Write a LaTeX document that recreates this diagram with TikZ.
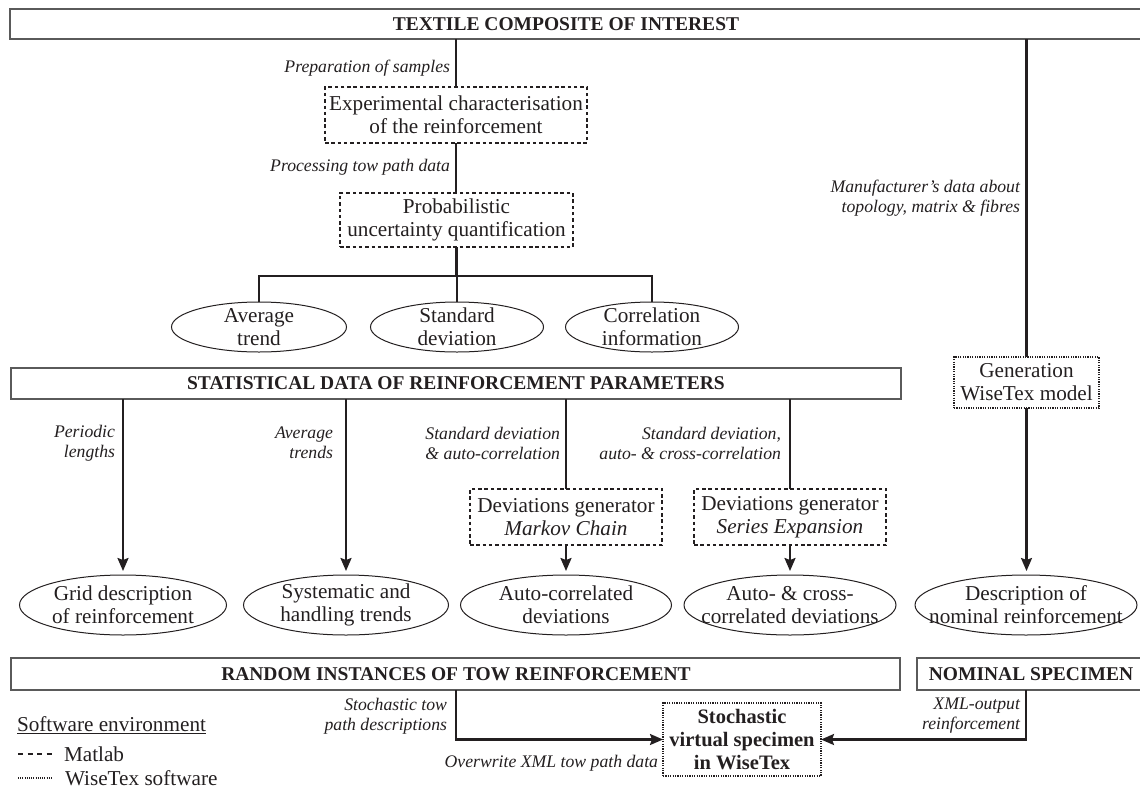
\documentclass[tikz,border=0pt]{standalone}
\usepackage{fontspec}
\setmainfont{Liberation Serif}
\usetikzlibrary{arrows.meta,shapes.geometric}
\definecolor{ink}{HTML}{231F20}
\definecolor{frame}{HTML}{5A5A5A}
\begin{document}
\begin{tikzpicture}[x=1pt,y=-1pt,
  every node/.style={text=ink, inner sep=0pt, outer sep=0pt},
  bar/.style={draw=frame, line width=1.3pt, rectangle, anchor=north west},
  ttl/.style={font=\fontsize{19.5}{23}\selectfont\bfseries},
  body/.style={align=center, font=\fontsize{21.2}{23}\selectfont},
  matbox/.style={body, draw=ink, line width=1.7pt, dash pattern=on 3.5pt off 2.8pt, rectangle},
  wtbox/.style={body, draw=ink, line width=1.6pt, dash pattern=on 1.2pt off 1.2pt, rectangle},
  ell/.style={draw=ink, line width=1pt, ellipse},
  lab/.style={align=right, anchor=east, font=\fontsize{17.7}{20}\selectfont\itshape},
  conn/.style={draw=ink, line width=2.2pt, line join=miter},
  arr/.style={conn, -{Stealth[length=13pt,width=11pt,inset=2pt]}},
]
\useasboundingbox (0,0) rectangle (1140,790);

% bars
\node[bar, minimum width=1150pt, minimum height=30pt] (top) at (10,9) {};
\node[ttl] (toptxt) at (566,24) {TEXTILE COMPOSITE OF INTEREST};
\node[bar, minimum width=890pt, minimum height=31pt] (stat) at (11,368) {};
\node[ttl] (stattxt) at (456,383.5) {STATISTICAL DATA OF REINFORCEMENT PARAMETERS};
\node[bar, minimum width=889pt, minimum height=32pt] (rand) at (11,658) {};
\node[ttl] (randtxt) at (456,674) {RANDOM INSTANCES OF TOW REINFORCEMENT};
\node[bar, minimum width=240pt, minimum height=32pt] (nombar) at (917,658) {};
\node[ttl] (nomtxt) at (1031,674) {NOMINAL SPECIMEN};

% dashed (Matlab) boxes
\node[matbox, minimum width=262pt, minimum height=56pt] (exp) at (456,115) {Experimental characterisation\\of the reinforcement};
\node[matbox, minimum width=233pt, minimum height=54pt] (prob) at (456.5,220) {Probabilistic\\uncertainty quantification};
\node[matbox, minimum width=192pt, minimum height=56pt] (markov) at (566,517) {Deviations generator\\\textit{Markov Chain}};
\node[matbox, minimum width=192pt, minimum height=56pt] (series) at (790,517) {Deviations generator\\\textit{Series Expansion}};

% dotted (WiseTex) boxes
\node[wtbox, minimum width=145pt, minimum height=51pt] (gen) at (1026.5,382.5) {Generation\\WiseTex model};
\node[wtbox, minimum width=158pt, minimum height=73pt, font=\fontsize{20.5}{23}\selectfont\bfseries] (stoch) at (742,739.5) {Stochastic\\virtual specimen\\in WiseTex};

% ellipses row 1
\node[ell, minimum width=175pt, minimum height=50pt] (avg) at (259,327) {};
\node[body] (avgt) at (avg) {Average\\trend};
\node[ell, minimum width=173pt, minimum height=50pt] (std) at (457,327) {};
\node[body] (stdt) at (std) {Standard\\deviation};
\node[ell, minimum width=173pt, minimum height=50pt] (cor) at (652,327) {};
\node[body] (cort) at (cor) {Correlation\\information};

% ellipses row 2
\node[ell, minimum width=207pt, minimum height=60pt] (grid) at (123,605) {};
\node[body] (gridt) at (grid) {Grid description\\of reinforcement};
\node[ell, minimum width=205pt, minimum height=60pt] (sys) at (346,605) {};
\node[body] (syst) at (sys) {Systematic and\\handling trends};
\node[ell, minimum width=211pt, minimum height=60pt] (acd) at (566,605) {};
\node[body] (acdt) at (acd) {Auto-correlated\\deviations};
\node[ell, minimum width=212pt, minimum height=60pt] (xcd) at (790,605) {};
\node[body] (xcdt) at (xcd) {Auto- \& cross-\\correlated deviations};
\node[ell, minimum width=222pt, minimum height=60pt] (nom) at (1026,605) {};
\node[body] (nomt) at (nom) {Description of\\nominal reinforcement};

% connectors
\draw[conn] (top.south -| exp.north) -- (exp.north);
\draw[conn] (exp.south) -- (exp.south |- prob.north);
\coordinate (br) at (456,276);
\draw[conn] (prob.south) -- (prob.south |- br);
\draw[conn] (avg.north) -- (avg.north |- br) -- (cor.north |- br) -- (cor.north);
\draw[conn] (std.north |- br) -- (std.north);

\draw[arr, shorten >=4pt] (stat.south -| grid.north) -- (grid.north);
\draw[arr, shorten >=4pt] (stat.south -| sys.north) -- (sys.north);
\draw[conn] (stat.south -| markov.north) -- (markov.north);
\draw[conn] (stat.south -| series.north) -- (series.north);
\draw[arr, shorten >=4pt] (markov.south) -- (markov.south |- acd.north);
\draw[arr, shorten >=4pt] (series.south) -- (series.south |- xcd.north);

\draw[conn] (top.south -| gen.north) -- (gen.north);
\draw[arr, shorten >=4pt] (gen.south) -- (gen.south |- nom.north);

\coordinate (rb) at (456,739.5);
\coordinate (nb) at (1026,739.5);
\draw[arr] (rand.south -| rb) -- (rb) -- (stoch.west);
\draw[arr] (nombar.south -| nb) -- (nb) -- (stoch.east);

% labels
\node[lab] (l1) at (450,68) {Preparation of samples};
\node[lab] (l2) at (450,167) {Processing tow path data};
\node[lab] (l3) at (1020,198.5) {Manufacturer's data about\\topology, matrix \& fibres};
\node[lab] (l4) at (115,443) {Periodic\\lengths};
\node[lab] (l5) at (333,443) {Average\\trends};
\node[lab] (l6) at (560,443) {Standard deviation\\\& auto-correlation};
\node[lab] (l7) at (781,443) {Standard deviation,\\auto- \& cross-correlation};
\node[lab] (l8) at (447,716) {Stochastic tow\\path descriptions};
\node[lab] (l9) at (658,763) {Overwrite XML tow path data};
\node[lab] (l10) at (1020,716) {XML-output\\reinforcement};

% legend
\node[body, anchor=west] (sw) at (17,725) {\underline{Software environment}};
\coordinate (m1) at (18,754);
\coordinate (m2) at (53,754);
\draw[ink, line width=1.4pt, dash pattern=on 5pt off 4.5pt] (m1) -- (m2);
\node[body, anchor=west] (mt) at (64,754) {Matlab};
\coordinate (w1) at (18,778);
\coordinate (w2) at (53,778);
\draw[ink, line width=1.4pt, dash pattern=on 1pt off 1.2pt] (w1) -- (w2);
\node[body, anchor=west] (wt) at (65,778) {WiseTex software};
\end{tikzpicture}
\end{document}
